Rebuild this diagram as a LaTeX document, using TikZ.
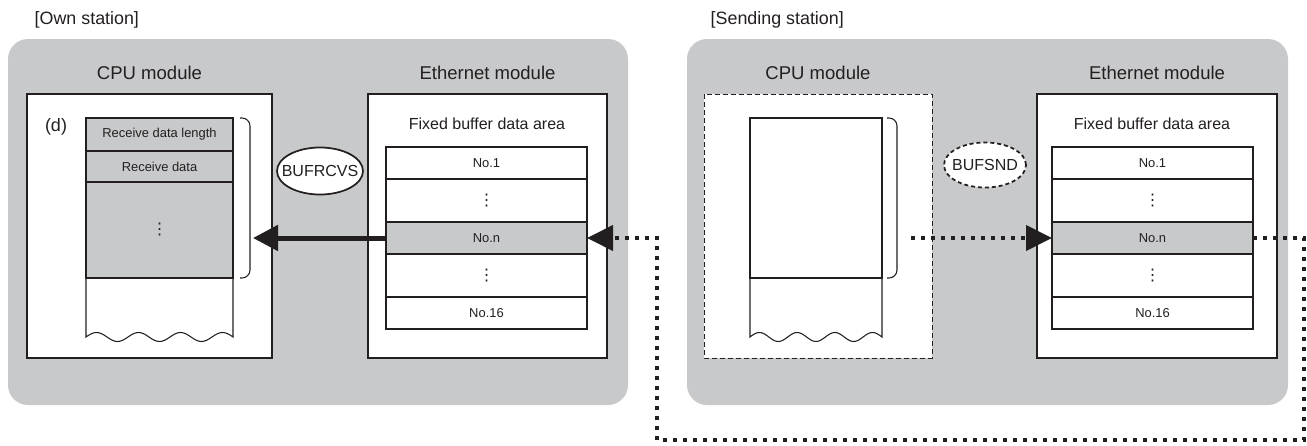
\documentclass[tikz,border=0pt]{standalone}
\usepackage{fontspec}
\setmainfont{Liberation Sans}
\newfontfamily\symfont{DejaVu Sans}
\usetikzlibrary{arrows.meta,shapes.geometric}
\definecolor{panelgray}{RGB}{200,201,203}
\definecolor{inkgray}{RGB}{35,31,32}

\begin{document}
\begin{tikzpicture}[x=0.75pt, y=-0.75pt,
    every node/.style={text=inkgray},
    station/.style={font=\fontsize{13.4}{16}\selectfont, anchor=west},
    title/.style={font=\fontsize{13.9}{16}\selectfont},
    areatext/.style={font=\fontsize{12}{14}\selectfont},
    panel/.style={fill=panelgray, rounded corners=15pt},
    modbox/.style={draw=inkgray, fill=white, line width=0.9pt},
    cell/.style={draw=inkgray, fill=white, line width=1pt, inner sep=0pt, outer sep=0pt,
        minimum width=150.75pt, font=\fontsize{9.7}{11}\selectfont},
    numcell/.style={cell, minimum height=24pt},
    dotcell/.style={cell, minimum height=32.25pt, font=\symfont\fontsize{12}{14}\selectfont},
    memcell/.style={draw=inkgray, fill=panelgray, line width=1pt, inner sep=0pt, outer sep=0pt,
        minimum width=110.25pt, font=\fontsize{9.7}{11}\selectfont},
    instr/.style={ellipse, draw=inkgray, fill=white, line width=1.3pt, inner sep=0pt,
        font=\fontsize{12}{14}\selectfont},
    thin/.style={draw=inkgray, line width=0.8pt},
    dotline/.style={draw=inkgray, line width=3pt, dash pattern=on 3pt off 4.5pt}
]
    \useasboundingbox (0,0) rectangle (1307,446);

    % Own station
    \node[station] (ownlbl) at (30,20) {[Own station]};
    \fill[panel] (8,39) rectangle (628,405);

    \node[title] (owncpu) at (149.5,73) {CPU module};
    \draw[modbox] (27,94) rectangle (272,358);
    \node[font=\fontsize{13.5}{16}\selectfont] (dmark) at (56,127) {(d)};

    \node[memcell, minimum height=24.75pt] (rcvlen) at (159.5,134.5) {Receive data length};
    \node[memcell, minimum height=23.25pt] (rcvdat) at (159.5,166.5) {Receive data};
    \node[memcell, minimum height=72pt, font=\symfont\fontsize{12}{14}\selectfont] (rcvrest) at (159.5,230) {⋮};
    \draw[thin] (rcvrest.south west) -- (86,337)
        -- plot[domain=0:147, samples=80, smooth] ({86+\x}, {337-4.5*sin(\x/42*360)})
        -- (rcvrest.south east);
    \draw[thin, rounded corners=6pt] (240,118) -- (250,118) -- (250,278) -- (240,278);
    \coordinate (rcvbrk) at (253,238);

    \node[title] (owneth) at (487.5,73) {Ethernet module};
    \draw[modbox] (368,94) rectangle (607,358);
    \node[areatext] (ownarea) at (487,124) {Fixed buffer data area};
    \node[numcell] (own1) at (486.5,163) {No.1};
    \node[dotcell] (ownd1) at (486.5,200.5) {⋮};
    \node[numcell, fill=panelgray] (ownn) at (486.5,238) {No.n};
    \node[dotcell] (ownd2) at (486.5,275.5) {⋮};
    \node[numcell] (own16) at (486.5,313) {No.16};

    \node[instr, minimum width=64.5pt, minimum height=35.25pt] (rcvins) at (320,171) {\makebox[0pt]{BUFRCVS}};
    \draw[draw=inkgray, line width=3.75pt, -{Triangle[length=18.75pt, width=18.75pt]}] (ownn.west) -- (rcvbrk);

    % Sending station
    \node[station] (sendlbl) at (706,20) {[Sending station]};
    \fill[panel] (687,39) rectangle (1288,405);

    \node[title] (sendcpu) at (818,73) {CPU module};
    \draw[modbox, line width=0.75pt, dash pattern=on 3.5pt off 2.5pt] (704,94) rectangle (932,358);
    \node[draw=inkgray, fill=white, line width=1pt, inner sep=0pt, outer sep=0pt,
        minimum width=99pt, minimum height=120pt] (sendbuf) at (816,198) {};
    \draw[thin] (sendbuf.south west) -- (750,337)
        -- plot[domain=0:132, samples=80, smooth] ({750+\x}, {337-4.5*sin(\x/37.7*360)})
        -- (sendbuf.south east);
    \draw[thin, rounded corners=6pt] (887,118) -- (897,118) -- (897,278) -- (887,278);
    \coordinate (sendbrk) at (911,238);

    \node[title] (sendeth) at (1157,73) {Ethernet module};
    \draw[modbox] (1037,94) rectangle (1277,358);
    \node[areatext] (sendarea) at (1152,124) {Fixed buffer data area};
    \node[numcell] (send1) at (1152.5,163) {No.1};
    \node[dotcell] (sendd1) at (1152.5,200.5) {⋮};
    \node[numcell, fill=panelgray] (sendn) at (1152.5,238) {No.n};
    \node[dotcell] (sendd2) at (1152.5,275.5) {⋮};
    \node[numcell] (send16) at (1152.5,313) {No.16};

    \node[instr, dash pattern=on 3pt off 2.2pt, minimum width=61.5pt, minimum height=33.75pt] (sendins) at (985,165) {\makebox[0pt]{BUFSND}};
    \draw[dotline, -{Triangle[length=19.5pt, width=18.75pt]}] (sendbrk) -- (sendn.west);

    % Transfer between stations
    \coordinate (loopr) at (1304,440);
    \coordinate (loopl) at (657,440);
    \draw[dotline, -{Triangle[length=19.5pt, width=18.75pt]}] (sendn.east) -| (loopr) -- (loopl) |- (ownn.east);
\end{tikzpicture}
\end{document}
